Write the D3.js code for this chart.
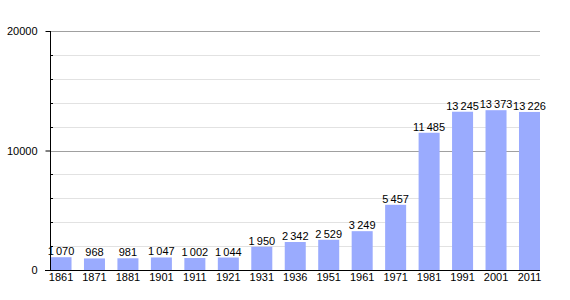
<!DOCTYPE html>
<meta charset="utf-8">
<style>
body{margin:0;background:#fff}
text{font-family:"Liberation Sans",Arial,sans-serif}
</style>
<svg width="570" height="300" id="chart"></svg>
<script src="https://d3js.org/d3.v7.min.js"></script>
<script>

var years = ["1861","1871","1881","1901","1911","1921","1931","1936","1951","1961","1971","1981","1991","2001","2011"]
var population = [1070,968,981,1047,1002,1044,1950,2342,2529,3249,5457,11485,13245,13373,13226]
var majorTicks = [0,10000,20000]
var minorTicks = [2000,4000,6000,8000,12000,14000,16000,18000]

var svg = d3.select("#chart")

var x = d3.scaleBand()
  .domain(years)
  .range([50.5, 540])
  .paddingInner(0.372)
  .paddingOuter(0)

var y = d3.scaleLinear()
  .domain([0, 20000])
  .range([270, 31])

// minor grid
svg.append("g").selectAll("line").data(minorTicks).enter().append("line")
  .attr("x1", 50).attr("x2", 540)
  .attr("y1", d => Math.round(y(d))+0.5).attr("y2", d => Math.round(y(d))+0.5)
  .attr("stroke", "#e2e2e2")

// minor ticks
svg.append("g").selectAll("line").data(minorTicks).enter().append("line")
  .attr("x1", 50).attr("x2", 53)
  .attr("y1", d => Math.round(y(d))+0.5).attr("y2", d => Math.round(y(d))+0.5)
  .attr("stroke", "#000")

// major grid
svg.append("g").selectAll("line").data(majorTicks.filter(d => d>0)).enter().append("line")
  .attr("x1", 50).attr("x2", 540)
  .attr("y1", d => Math.round(y(d))+0.5).attr("y2", d => Math.round(y(d))+0.5)
  .attr("stroke", "#a0a0a0")

// bars
svg.append("g").selectAll("rect").data(population).enter().append("rect")
  .attr("x", (d,i) => x(years[i]))
  .attr("y", d => y(d))
  .attr("width", x.bandwidth())
  .attr("height", d => 270 - y(d))
  .attr("fill", "#9aabfe")

// value labels
var fmt = d => d3.format(",")(d).replace(",", "\u2009")
svg.append("g").selectAll("text").data(population).enter().append("text")
  .attr("x", (d,i) => x(years[i]) + x.bandwidth()/2)
  .attr("y", d => y(d) - 2)
  .attr("text-anchor", "middle")
  .attr("font-size", "11px")
  .text(fmt)

// y axis
var yAxis = d3.axisLeft(y).tickValues(majorTicks).tickSize(5).tickFormat(d => d)
svg.append("g").attr("transform", "translate(50.5,0)").call(yAxis)
  .call(g => g.select(".domain").remove())
  .call(g => g.selectAll("text").attr("font-size", "11px").attr("font-family", null).attr("x", -13))
svg.append("line").attr("x1", 50.5).attr("x2", 50.5).attr("y1", 31).attr("y2", 270).attr("stroke", "#000")

// x axis
var xAxis = d3.axisBottom(x).tickSize(0).tickPadding(3)
svg.append("g").attr("transform", "translate(0,270.5)").call(xAxis)
  .call(g => g.select(".domain").remove())
  .call(g => g.selectAll("text").attr("font-size", "11px").attr("font-family", null))
svg.append("line").attr("x1", 45).attr("x2", 540).attr("y1", 270.5).attr("y2", 270.5).attr("stroke", "#000")

</script>
